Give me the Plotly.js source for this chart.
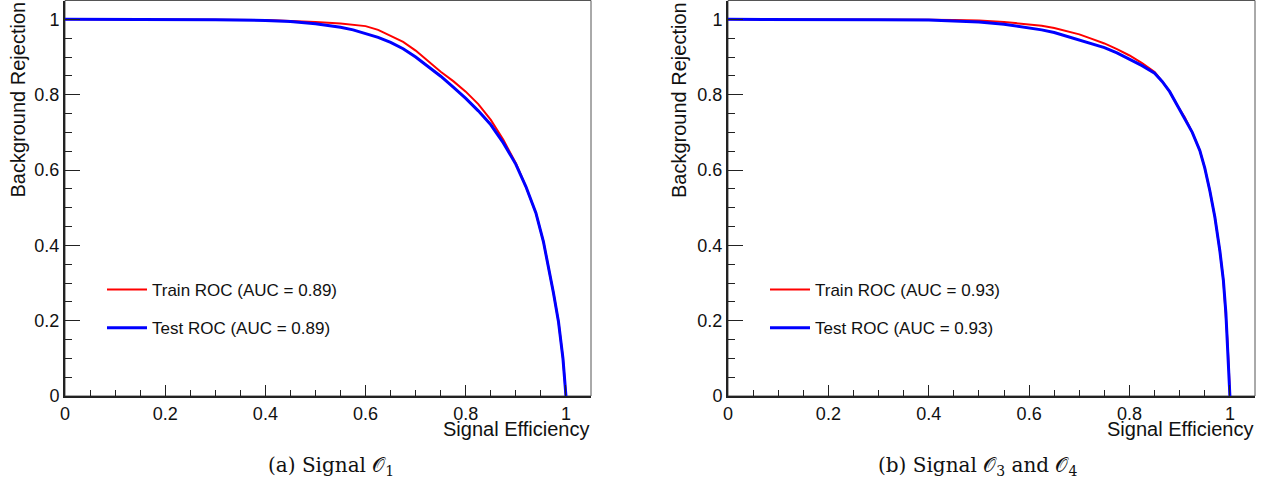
<!DOCTYPE html>
<html>
<head>
<meta charset="utf-8">
<script src="https://cdn.plot.ly/plotly-3.0.1.min.js"></script>
<style>html,body{margin:0;padding:0;background:#fff;}#chart{width:1265px;height:484px;}</style>
</head>
<body>
<div id="chart"></div>
<script>
// ---- Data ----
const effA   = [0, 0.1, 0.2, 0.3, 0.4, 0.45, 0.5, 0.55, 0.575, 0.6, 0.625, 0.65, 0.675, 0.7, 0.725, 0.75, 0.775, 0.8, 0.825, 0.85, 0.875, 0.9, 0.92, 0.94, 0.955, 0.965, 0.975, 0.985, 0.99, 0.994, 0.997, 1.0];
const trainA = [1, 1, 1, 0.999, 0.998, 0.996, 0.993, 0.989, 0.986, 0.982, 0.972, 0.957, 0.94, 0.917, 0.888, 0.861, 0.836, 0.808, 0.775, 0.733, 0.68, 0.618, 0.556, 0.486, 0.41, 0.345, 0.274, 0.198, 0.15, 0.1, 0.05, 0];
const testA  = [1, 1, 0.999, 0.999, 0.997, 0.994, 0.988, 0.979, 0.972, 0.962, 0.952, 0.939, 0.922, 0.9, 0.875, 0.849, 0.82, 0.79, 0.757, 0.72, 0.672, 0.615, 0.556, 0.486, 0.41, 0.345, 0.274, 0.198, 0.15, 0.1, 0.05, 0];

const effB   = [0, 0.1, 0.2, 0.3, 0.4, 0.45, 0.5, 0.55, 0.6, 0.625, 0.65, 0.675, 0.7, 0.725, 0.75, 0.775, 0.8, 0.825, 0.85, 0.865, 0.88, 0.895, 0.91, 0.925, 0.94, 0.95, 0.96, 0.97, 0.98, 0.987, 0.992, 0.995, 0.998, 1.0];
const trainB = [1, 1, 1, 1, 0.999, 0.998, 0.997, 0.993, 0.987, 0.983, 0.977, 0.969, 0.96, 0.948, 0.936, 0.921, 0.904, 0.884, 0.86, 0.835, 0.808, 0.772, 0.74, 0.70, 0.652, 0.605, 0.545, 0.475, 0.385, 0.307, 0.22, 0.15, 0.07, 0];
const testB  = [1, 1, 1, 0.999, 0.998, 0.996, 0.993, 0.987, 0.978, 0.972, 0.965, 0.955, 0.946, 0.936, 0.925, 0.911, 0.894, 0.877, 0.857, 0.835, 0.808, 0.772, 0.74, 0.70, 0.652, 0.605, 0.545, 0.475, 0.385, 0.307, 0.22, 0.15, 0.07, 0];

const legendA = ["Train ROC (AUC = 0.89)", "Test ROC (AUC = 0.89)"];
const legendB = ["Train ROC (AUC = 0.93)", "Test ROC (AUC = 0.93)"];
const tickVals = [0, 0.2, 0.4, 0.6, 0.8, 1];
const xTitle = "Signal Efficiency";
const yTitle = "Background Rejection";
const captions = ["(a) Signal 𝒪<sub>1</sub>", "(b) Signal 𝒪<sub>3</sub> and 𝒪<sub>4</sub>"];

// ---- Styling ----
const W = 1265, H = 484;
const RED = "#ff0000", BLUE = "#0000ff";
const sans = "Liberation Sans, Arial, sans-serif";

function trace(x, y, name, color, width, xa, ya, leg, grp) {
  return {x: x, y: y, name: name, type: "scatter", mode: "lines",
          line: {color: color, width: width}, xaxis: xa, yaxis: ya,
          legend: leg, legendgroup: grp, showlegend: true, hoverinfo: "skip"};
}

const data = [
  trace(effA, trainA, legendA[0], RED, 2, "x", "y", "legend", "a1"),
  trace(effA, testA, legendA[1], BLUE, 3, "x", "y", "legend", "a2"),
  trace(effB, trainB, legendB[0], RED, 2, "x2", "y2", "legend2", "b1"),
  trace(effB, testB, legendB[1], BLUE, 3, "x2", "y2", "legend2", "b2")
];

const yBot = 1 - 396 / H, yTop = 1 - 0.5 / H;

function xaxis(domain, anchor) {
  return {domain: domain, anchor: anchor, range: [0, 1.05], showgrid: false, zeroline: false,
    showline: true, linecolor: "#222", linewidth: 2,
    tickmode: "array", tickvals: tickVals, ticks: "inside", ticklen: 11, tickwidth: 1, tickcolor: "#222",
    minor: {dtick: 0.05, tick0: 0, ticks: "inside", ticklen: 6, tickwidth: 1, tickcolor: "#222"},
    tickfont: {family: sans, size: 18, color: "#111"}, fixedrange: true};
}
function yaxis(anchor) {
  return {domain: [yBot, yTop], anchor: anchor, range: [0, 1.05], showgrid: false, zeroline: false,
    showline: true, linecolor: "#222", linewidth: 2,
    tickmode: "array", tickvals: tickVals, ticks: "inside", ticklen: 15, tickwidth: 1, tickcolor: "#222",
    minor: {dtick: 0.05, tick0: 0, ticks: "inside", ticklen: 7, tickwidth: 1, tickcolor: "#222"},
    tickfont: {family: sans, size: 18, color: "#111"}, fixedrange: true};
}

const legendStyle = (xpx, ypx) => ({x: xpx / W, y: 1 - ypx / H, xanchor: "left", yanchor: "top",
  bgcolor: "rgba(0,0,0,0)", borderwidth: 0, font: {family: sans, size: 17, color: "#111"},
  tracegroupgap: 13, itemwidth: 40, orientation: "v"});

const frameShape = (xr, yr) => ({type: "rect", xref: xr + " domain", yref: yr + " domain",
  x0: 0, x1: 1, y0: 0, y1: 1, line: {color: "#555", width: 1}, layer: "below"});

const layout = {
  width: W, height: H, margin: {l: 0, r: 0, t: 0, b: 0},
  paper_bgcolor: "#fff", plot_bgcolor: "#fff", showlegend: true,
  xaxis: xaxis([65 / W, 591 / W], "y"),
  yaxis: yaxis("x"),
  xaxis2: xaxis([728 / W, 1255 / W], "y2"),
  yaxis2: yaxis("x2"),
  legend: legendStyle(102, 272),
  legend2: legendStyle(765, 272),
  shapes: [frameShape("x", "y"), frameShape("x2", "y2")],
  annotations: [
    {text: xTitle, xref: "paper", yref: "paper", x: 591 / W, y: 1 - 429 / H, xanchor: "right", yanchor: "middle",
     showarrow: false, font: {family: sans, size: 20, color: "#111"}},
    {text: xTitle, xref: "paper", yref: "paper", x: 1255 / W, y: 1 - 429 / H, xanchor: "right", yanchor: "middle",
     showarrow: false, font: {family: sans, size: 20, color: "#111"}},
    {text: yTitle, xref: "paper", yref: "paper", x: 17.5 / W, y: 1, xanchor: "center", yanchor: "top", textangle: -90,
     showarrow: false, font: {family: sans, size: 20, color: "#111"}},
    {text: yTitle, xref: "paper", yref: "paper", x: 679 / W, y: 1, xanchor: "center", yanchor: "top", textangle: -90,
     showarrow: false, font: {family: sans, size: 20, color: "#111"}},
    {text: captions[0], xref: "paper", yref: "paper", x: 331 / W, y: 1 - 466 / H, xanchor: "center", yanchor: "middle",
     showarrow: false, font: {family: "DejaVu Serif, serif", size: 20, color: "#111"}},
    {text: captions[1], xref: "paper", yref: "paper", x: 977 / W, y: 1 - 466 / H, xanchor: "center", yanchor: "middle",
     showarrow: false, font: {family: "DejaVu Serif, serif", size: 20, color: "#111"}}
  ]
};

Plotly.newPlot("chart", data, layout, {displayModeBar: false, staticPlot: true});
</script>
</body>
</html>
